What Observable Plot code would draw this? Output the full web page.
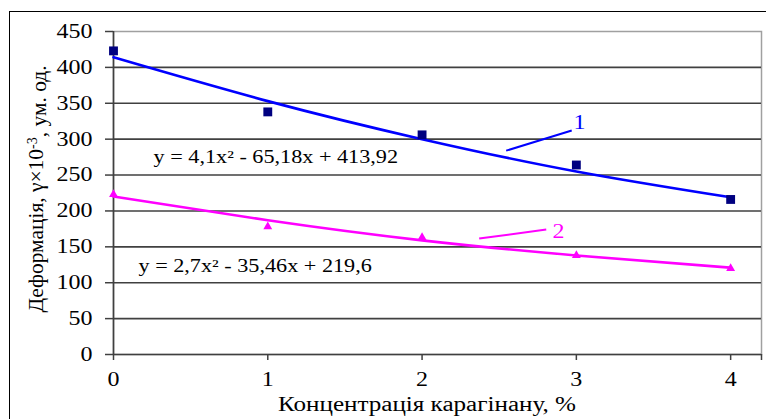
<!DOCTYPE html>
<html>
<head>
<meta charset="utf-8">
<script src="https://cdn.jsdelivr.net/npm/d3@7"></script>
<script src="https://cdn.jsdelivr.net/npm/@observablehq/plot@0.6"></script>
<style>
  html, body { margin: 0; padding: 0; background: #fff; overflow: hidden; }
  #wrap { position: relative; width: 766px; height: 419px; }
  #border { position: absolute; left: 9px; top: 11px; width: 900px; height: 600px; border: 1px solid #000; pointer-events: none; }
  svg text, svg tspan { font-family: "Liberation Serif", "Times New Roman", serif !important; }
</style>
</head>
<body>
<div id="wrap"><div id="chart"></div><div id="border"></div></div>
<script>
// Data
const concentration = [0, 1, 2, 3, 4];
const series1 = [423, 338, 306, 264, 216];   // curve 1 (squares)
const series2 = [223, 178, 163, 138, 120];   // curve 2 (triangles)
const trend1 = [414, 353, 300, 255, 219];    // polynomial trendline 1
const trend2 = [220, 187, 159, 138, 121];    // polynomial trendline 2
const xTicks = [0, 1, 2, 3, 4];
const yTicks = [0, 50, 100, 150, 200, 250, 300, 350, 400, 450];
const eq1 = "y = 4,1x² - 65,18x + 413,92";
const eq2 = "y = 2,7x² - 35,46x + 219,6";
const xTitle = "Концентрація карагінану, %";

const rows1 = concentration.map((c, i) => ({x: c, y: series1[i], t: trend1[i]}));
const rows2 = concentration.map((c, i) => ({x: c, y: series2[i], t: trend2[i]}));

const FONT = "Liberation Serif, Times New Roman, serif";

const svg = Plot.plot({
  width: 766,
  height: 419,
  marginLeft: 113,
  marginRight: 5,
  marginTop: 31,
  marginBottom: 65,
  style: {fontFamily: FONT, fontSize: "20px", color: "#000", background: "transparent"},
  x: {domain: [0, 4.2]},
  y: {domain: [0, 450]},
  marks: [
    Plot.frame({stroke: "#a0a0a0", strokeWidth: 1.5}),
    Plot.gridY(yTicks.filter(v => v > 0 && v < 450), {stroke: "#404040", strokeOpacity: 1, strokeWidth: 1.6}),
    Plot.ruleY([0], {stroke: "#404040", strokeWidth: 1.6}),
    Plot.ruleX([0], {stroke: "#404040", strokeWidth: 1.6}),
    Plot.axisY({ticks: yTicks, tickFormat: d => String(d), tickSize: 8, tickPadding: 13, label: null, stroke: "#404040", strokeWidth: 1.5, fill: "#000", fontSize: 20}),
    Plot.axisX({ticks: xTicks, tickFormat: d => String(d), tickSize: 6, tickPadding: 11, label: null, stroke: "#404040", strokeWidth: 1.5, fill: "#000", fontSize: 20}),
    Plot.axisX({ticks: [4.2], tickSize: 6, tickFormat: () => "", label: null, stroke: "#404040", strokeWidth: 1.5}),
    Plot.line(rows1, {x: "x", y: "t", stroke: "#0000ff", strokeWidth: 2.6, curve: "natural"}),
    Plot.line(rows2, {x: "x", y: "t", stroke: "#ff00ff", strokeWidth: 2.6, curve: "natural"}),
    Plot.dot(rows1, {x: "x", y: "y", symbol: "square", fill: "#000080", r: 5}),
    Plot.dot(rows2, {x: "x", y: "y", symbol: "triangle", fill: "#ff00ff", r: 3.3}),
    Plot.text([eq1], {x: 0.26, y: 275.5, text: d => d, textAnchor: "start", fill: "#000", fontSize: 18.5}),
    Plot.text([eq2], {x: 0.162, y: 122.5, text: d => d, textAnchor: "start", fill: "#000", fontSize: 18.5}),
    Plot.link([1], {x1: 2.545, y1: 284, x2: 2.97, y2: 312, stroke: "#0000ff", strokeWidth: 2}),
    Plot.link([2], {x1: 2.37, y1: 161.5, x2: 2.805, y2: 174, stroke: "#ff00ff", strokeWidth: 2}),
    Plot.text(["1"], {x: 3.02, y: 322.5, text: d => d, fill: "#0000ff", fontSize: 20}),
    Plot.text(["2"], {x: 2.884, y: 171.4, text: d => d, fill: "#ff00ff", fontSize: 20})
  ]
});

document.getElementById("chart").appendChild(svg);

// Horizontally widen all horizontal texts, as in the reference rendering
d3.select(svg).selectAll("text").each(function () {
  const len = this.getComputedTextLength();
  if (len > 0) {
    this.setAttribute("textLength", (len * 1.2).toFixed(2));
    this.setAttribute("lengthAdjust", "spacingAndGlyphs");
  }
});

const s = d3.select(svg);
s.append("text")
  .attr("x", 427).attr("y", 411)
  .attr("text-anchor", "middle")
  .attr("font-family", FONT).attr("font-size", 20).attr("fill", "#000")
  .attr("textLength", 298).attr("lengthAdjust", "spacingAndGlyphs")
  .text(xTitle);

const yl = s.append("text")
  .attr("transform", "translate(43,189) rotate(-90)")
  .attr("text-anchor", "middle")
  .attr("font-family", FONT).attr("font-size", 20).attr("fill", "#000");
yl.append("tspan").text("Деформація, γ×10");
yl.append("tspan").attr("dy", "-0.45em").attr("font-size", 14).text("-3");
yl.append("tspan").attr("dy", "0.45em").text(", ум. од.");
const ylen = yl.node().getComputedTextLength();
if (ylen > 0) {
  const fs = Math.max(16, Math.min(24, 20 * 248 / ylen));
  yl.attr("font-size", fs.toFixed(2));
}
</script>
</body>
</html>
